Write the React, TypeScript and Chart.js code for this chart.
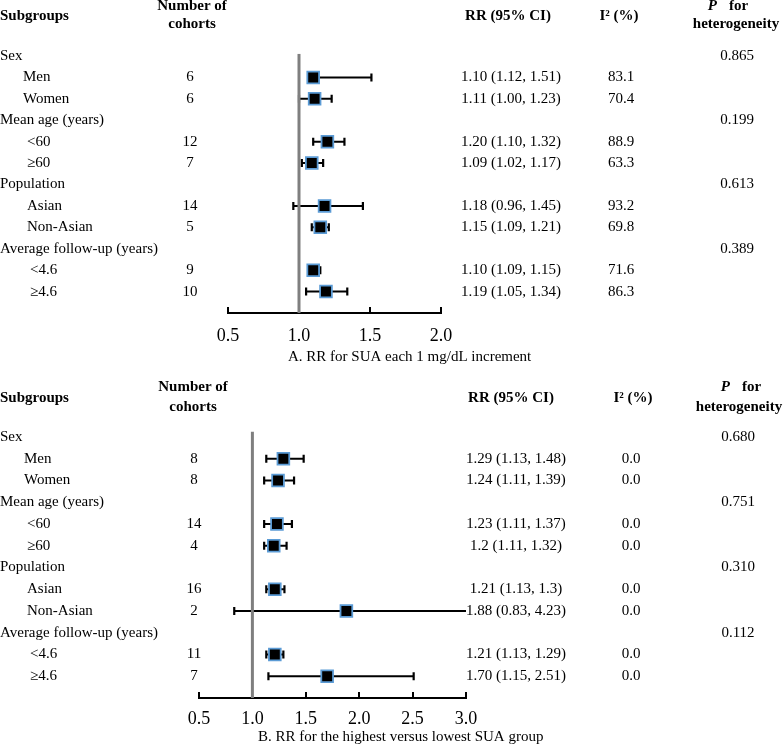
import React, { useEffect, useRef } from "react";
import { Chart, registerables } from "chart.js";

Chart.register(...registerables);

// ---------------- data ----------------
const groupLabels = ["Sex", "Mean age (years)", "Population", "Average follow-up (years)"];
const subgroupLabels = ["Men", "Women", "<60", "≥60", "Asian", "Non-Asian", "<4.6", "≥4.6"];
const nullEffect = 1.0;

// Panel A
const cohortsA = [6, 6, 12, 7, 14, 5, 9, 10];
const rrA = [1.10, 1.11, 1.20, 1.09, 1.18, 1.15, 1.10, 1.19];
const lowerA = [1.12, 1.00, 1.10, 1.02, 0.96, 1.09, 1.09, 1.05];
const upperA = [1.51, 1.23, 1.32, 1.17, 1.45, 1.21, 1.15, 1.34];
const rrTextA = [
  "1.10 (1.12, 1.51)", "1.11 (1.00, 1.23)", "1.20 (1.10, 1.32)", "1.09 (1.02, 1.17)",
  "1.18 (0.96, 1.45)", "1.15 (1.09, 1.21)", "1.10 (1.09, 1.15)", "1.19 (1.05, 1.34)",
];
const i2A = ["83.1", "70.4", "88.9", "63.3", "93.2", "69.8", "71.6", "86.3"];
const pHetA = ["0.865", "0.199", "0.613", "0.389"];
const xTicksA = [0.5, 1.0, 1.5, 2.0];
const captionA = "A. RR for SUA each 1 mg/dL increment";

// Panel B
const cohortsB = [8, 8, 14, 4, 16, 2, 11, 7];
const rrB = [1.29, 1.24, 1.23, 1.2, 1.21, 1.88, 1.21, 1.70];
const lowerB = [1.13, 1.11, 1.11, 1.11, 1.13, 0.83, 1.13, 1.15];
const upperB = [1.48, 1.39, 1.37, 1.32, 1.3, 4.23, 1.29, 2.51];
const rrTextB = [
  "1.29 (1.13, 1.48)", "1.24 (1.11, 1.39)", "1.23 (1.11, 1.37)", "1.2 (1.11, 1.32)",
  "1.21 (1.13, 1.3)", "1.88 (0.83, 4.23)", "1.21 (1.13, 1.29)", "1.70 (1.15, 2.51)",
];
const i2B = ["0.0", "0.0", "0.0", "0.0", "0.0", "0.0", "0.0", "0.0"];
const pHetB = ["0.680", "0.751", "0.310", "0.112"];
const xTicksB = [0.5, 1.0, 1.5, 2.0, 2.5, 3.0];
const captionB = "B. RR for the highest versus lowest SUA group";

// ---------------- layout / style ----------------
const FONT = '"Liberation Serif", "Times New Roman", serif';
const MARKER_BORDER = "#5B9BD5";
const REF_COLOR = "#7f7f7f";

const layoutA = {
  height: 370, left: 228, right: 441, row0: 56, axisY: 313, yMin: -0.1, tickPad: 12,
  countX: 190, countHeadX: 192, rrX: 511, rrHeadX: 508, i2X: 621, i2HeadX: 619,
  pX: 737, pForX: 728, hetX: 736, hdr1Y: 6, hdr2Y: 24, hdrY: 16,
  captionX: 288, captionY: 357, indents: [23, 27, 27, 30],
};
const layoutB = {
  height: 379, left: 199, right: 466, row0: 67, axisY: 328, yMin: -0.25, tickPad: 10,
  countX: 194, countHeadX: 193, rrX: 516, rrHeadX: 511, i2X: 631, i2HeadX: 633,
  pX: 738, pForX: 741, hetX: 739, hdr1Y: 17, hdr2Y: 37, hdrY: 28,
  captionX: 258, captionY: 367, indents: [24, 27, 27, 30],
};

const WIDTH = 784;
const N_ROWS = 12;

const rowOfSub = (i: number) => Math.floor(i / 2) * 3 + 1 + (i % 2);
const rowOfGroup = (g: number) => g * 3;

type PanelData = {
  cohorts: number[]; rr: number[]; lower: number[]; upper: number[];
  rrText: string[]; i2: string[]; pHet: string[]; ticks: number[]; caption: string;
};

function buildChart(canvas: HTMLCanvasElement, d: PanelData, L: any) {
  const pitch = (L.axisY - L.row0) / N_ROWS;
  const chartTop = L.row0 + L.yMin * pitch;
  const xMin = d.ticks[0];
  const xMax = d.ticks[d.ticks.length - 1];

  const whiskers = d.rr.map((_, i) => ({
    type: "scatter" as const,
    showLine: true,
    data: [
      { x: d.lower[i], y: rowOfSub(i) },
      { x: d.upper[i], y: rowOfSub(i) },
    ],
    borderColor: "#000",
    borderWidth: 2,
    pointStyle: "line" as const,
    rotation: 90,
    pointRadius: 4,
    pointBorderWidth: 2.2,
    pointBorderColor: "#000",
    pointBackgroundColor: "#000",
    order: 3,
  }));

  const refLine = {
    type: "scatter" as const,
    showLine: true,
    data: [
      { x: nullEffect, y: L.yMin },
      { x: nullEffect, y: N_ROWS },
    ],
    borderColor: REF_COLOR,
    borderWidth: 3,
    pointRadius: 0,
    order: 2,
  };

  const markers = {
    type: "scatter" as const,
    data: d.rr.map((v, i) => ({ x: v, y: rowOfSub(i) })),
    pointStyle: "rect" as const,
    pointRadius: 8.3,
    backgroundColor: "#000",
    borderColor: MARKER_BORDER,
    borderWidth: 1.8,
    order: 1,
  };

  const tickMarks = {
    id: "upTicks",
    beforeDatasetsDraw(chart: any) {
      const x = chart.scales.x;
      const ctx = chart.ctx;
      const yb = chart.chartArea.bottom;
      ctx.save();
      ctx.strokeStyle = "#000";
      ctx.lineWidth = 2;
      for (const t of x.ticks) {
        const px = Math.round(x.getPixelForValue(t.value));
        ctx.beginPath();
        ctx.moveTo(px, yb);
        ctx.lineTo(px, yb - 6);
        ctx.stroke();
      }
      ctx.restore();
    },
  };

  const textPlugin = {
    id: "forestText",
    afterDraw(chart: any) {
      const ctx = chart.ctx;
      const ys = chart.scales.y;
      const reg = `15px ${FONT}`;
      const bold = `bold 15px ${FONT}`;
      ctx.save();
      ctx.fillStyle = "#000";
      ctx.textBaseline = "middle";

      // headers
      ctx.font = bold;
      ctx.textAlign = "left";
      ctx.fillText("Subgroups", 0, L.hdrY);
      ctx.textAlign = "center";
      ctx.fillText("Number of", L.countHeadX, L.hdr1Y);
      ctx.fillText("cohorts", L.countHeadX, L.hdr2Y);
      ctx.fillText("RR (95% CI)", L.rrHeadX, L.hdrY);
      ctx.fillText("I² (%)", L.i2HeadX, L.hdrY);
      ctx.fillText("heterogeneity", L.hetX, L.hdr2Y);
      // "P  for"
      ctx.font = `italic bold 15px ${FONT}`;
      const wP = ctx.measureText("P").width;
      ctx.font = bold;
      const wFor = ctx.measureText("for").width;
      const gap = 12;
      const start = L.pForX - (wP + gap + wFor) / 2;
      ctx.textAlign = "left";
      ctx.font = `italic bold 15px ${FONT}`;
      ctx.fillText("P", start, L.hdr1Y);
      ctx.font = bold;
      ctx.fillText("for", start + wP + gap, L.hdr1Y);

      // body
      ctx.font = reg;
      groupLabels.forEach((g, gi) => {
        const y = ys.getPixelForValue(rowOfGroup(gi));
        ctx.textAlign = "left";
        ctx.fillText(g, 0, y);
        ctx.textAlign = "center";
        ctx.fillText(d.pHet[gi], L.pX, y);
      });
      subgroupLabels.forEach((s, i) => {
        const y = ys.getPixelForValue(rowOfSub(i));
        ctx.textAlign = "left";
        ctx.fillText(s, L.indents[Math.floor(i / 2)], y);
        ctx.textAlign = "center";
        ctx.fillText(String(d.cohorts[i]), L.countX, y);
        ctx.fillText(d.rrText[i], L.rrX, y);
        ctx.fillText(d.i2[i], L.i2X, y);
      });

      // caption
      ctx.textAlign = "left";
      ctx.fillText(d.caption, L.captionX, L.captionY);
      ctx.restore();
    },
  };

  return new Chart(canvas, {
    type: "scatter",
    data: { datasets: [markers, refLine, ...whiskers] as any },
    options: {
      responsive: false,
      animation: false,
      events: [],
      layout: {
        padding: { left: L.left, right: WIDTH - L.right, top: chartTop, bottom: 0 },
      },
      plugins: {
        legend: { display: false },
        tooltip: { enabled: false },
        title: { display: false },
      },
      scales: {
        x: {
          type: "linear",
          position: "bottom",
          min: xMin,
          max: xMax,
          grid: { display: false, drawTicks: false },
          border: { display: true, color: "#000", width: 2 },
          ticks: {
            color: "#000",
            font: { family: FONT, size: 18 },
            padding: L.tickPad,
            maxRotation: 0,
            autoSkip: false,
            callback: (v: any) => Number(v).toFixed(1),
          },
          afterBuildTicks: (s: any) => {
            s.ticks = d.ticks.map((v) => ({ value: v }));
          },
          afterFit: (s: any) => {
            s.height = L.height - L.axisY;
          },
        },
        y: {
          type: "linear",
          display: false,
          reverse: true,
          min: L.yMin,
          max: N_ROWS,
        },
      },
    } as any,
    plugins: [tickMarks, textPlugin],
  });
}

function Panel({ d, L }: { d: PanelData; L: any }) {
  const ref = useRef<HTMLCanvasElement | null>(null);
  useEffect(() => {
    if (!ref.current) return;
    const chart = buildChart(ref.current, d, L);
    return () => chart.destroy();
  }, []);
  return (
    <canvas
      ref={ref}
      width={WIDTH}
      height={L.height}
      style={{ display: "block", width: WIDTH, height: L.height }}
    />
  );
}

export default function App() {
  const dA: PanelData = {
    cohorts: cohortsA, rr: rrA, lower: lowerA, upper: upperA,
    rrText: rrTextA, i2: i2A, pHet: pHetA, ticks: xTicksA, caption: captionA,
  };
  const dB: PanelData = {
    cohorts: cohortsB, rr: rrB, lower: lowerB, upper: upperB,
    rrText: rrTextB, i2: i2B, pHet: pHetB, ticks: xTicksB, caption: captionB,
  };
  return (
    <div style={{ position: "absolute", left: 0, top: 0, width: WIDTH, height: 749, background: "#fff" }}>
      <Panel d={dA} L={layoutA} />
      <Panel d={dB} L={layoutB} />
    </div>
  );
}
